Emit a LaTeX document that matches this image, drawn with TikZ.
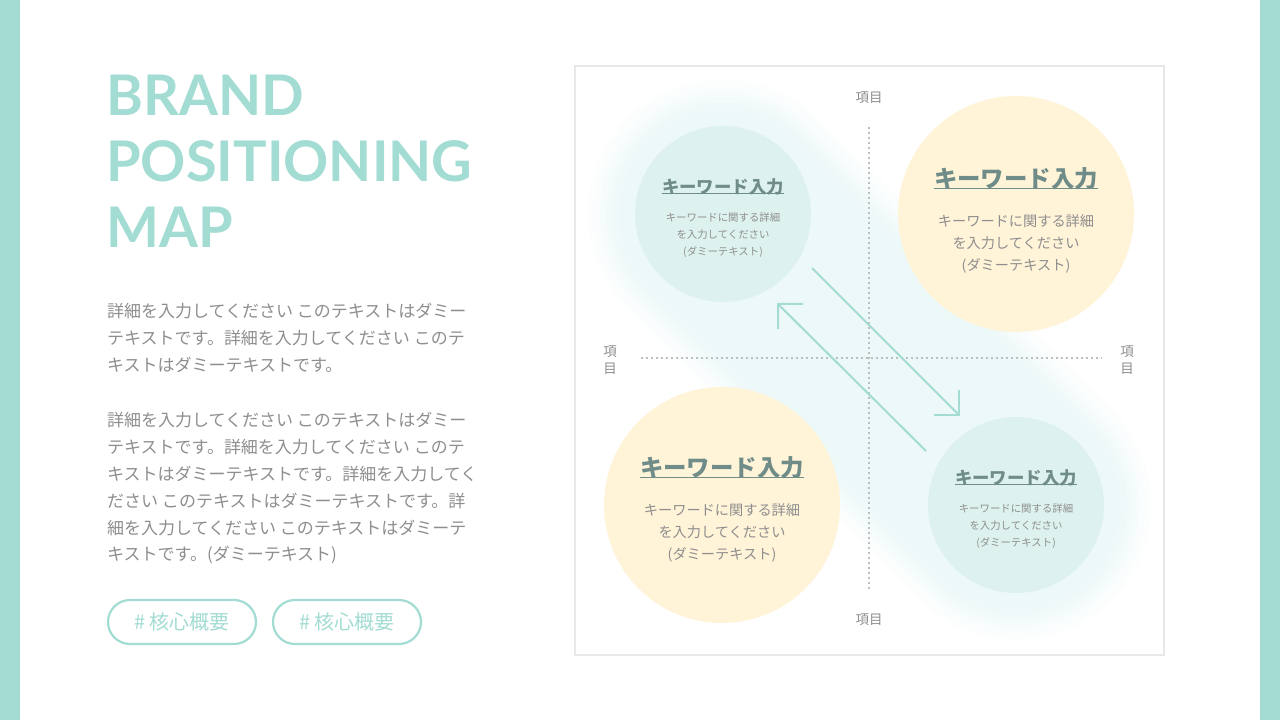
\documentclass[tikz,border=0pt]{standalone}
\usepackage{fontspec}
\setmainfont{Noto Sans CJK JP}
\newfontfamily\titlefont{Lato}
\usetikzlibrary{arrows.meta}
\definecolor{brandteal}{HTML}{A2DCD3}
\definecolor{bodygray}{HTML}{8E8E8E}
\definecolor{framegray}{HTML}{E7E9E9}
\definecolor{mintfill}{HTML}{DDF2EF}
\definecolor{creamfill}{HTML}{FFF3D8}
\definecolor{glowcol}{HTML}{EAF8F8}
\definecolor{kwcol}{HTML}{6F8C88}
\definecolor{axisgray}{HTML}{BABFBF}
\tikzset{
  titletxt/.style={font=\titlefont\bfseries\fontsize{56}{56}\selectfont, text=brandteal, inner sep=0pt, anchor=base west},
  bodytxt/.style={font=\fontsize{17}{27}\selectfont, text=bodygray, inner sep=0pt, anchor=west},
  tagbox/.style={draw=brandteal, line width=2.2pt, rounded corners=22pt, minimum width=148pt, minimum height=44pt, inner sep=0pt, text=brandteal, font=\fontsize{20}{20}\selectfont},
  bubble/.style={circle, inner sep=0pt, draw=none},
  kwsmall/.style={font=\bfseries\fontsize{17.4}{17.4}\selectfont, text=kwcol, inner sep=0pt},
  kwbig/.style={font=\bfseries\fontsize{23.4}{23.4}\selectfont, text=kwcol, inner sep=0pt},
  descsmall/.style={font=\fontsize{10.4}{17}\selectfont, text=bodygray, align=center, inner sep=0pt},
  descbig/.style={font=\fontsize{14.2}{22.2}\selectfont, text=bodygray, align=center, inner sep=0pt},
  axislabel/.style={font=\fontsize{13.5}{17}\selectfont, text=bodygray, align=center, inner sep=0pt},
  axisline/.style={axisgray, line width=1.5pt, dash pattern=on 1.5pt off 3.5pt},
  uline/.style={kwcol, line width=1.6pt},
  arrowline/.style={brandteal, line width=2pt, -{Straight Barb[length=17.7pt, width=35.4pt, line width=2pt]}}
}
\begin{document}
\begin{tikzpicture}[x=1pt,y=-1pt]
\useasboundingbox (0,0) rectangle (1280,720);
\fill[white] (0,0) rectangle (1280,720);
\fill[brandteal] (0,0) rectangle (20,720);
\fill[brandteal] (1260,0) rectangle (1280,720);

% title
\node[titletxt] (t1) at (106,115) {BRAND};
\node[titletxt] (t2) at (106,181) {POSITIONING};
\node[titletxt] (t3) at (106,247) {MAP};

% paragraphs
\node[bodytxt] (p1) at (107,311) {詳細を入力してください このテキストはダミー};
\node[bodytxt] (p2) at (107,338) {テキストです。詳細を入力してください このテ};
\node[bodytxt] (p3) at (107,365) {キストはダミーテキストです。};
\node[bodytxt] (q1) at (107,420) {詳細を入力してください このテキストはダミー};
\node[bodytxt] (q2) at (107,447) {テキストです。詳細を入力してください このテ};
\node[bodytxt] (q3) at (107,474) {キストはダミーテキストです。詳細を入力してく};
\node[bodytxt] (q4) at (107,501) {ださい このテキストはダミーテキストです。詳};
\node[bodytxt] (q5) at (107,528) {細を入力してください このテキストはダミーテ};
\node[bodytxt] (q6) at (107,555) {キストです。(ダミーテキスト)};

% tags
\node[tagbox] (g1) at (182,622) {\# 核心概要};
\node[tagbox] (g2) at (347,622) {\# 核心概要};

% frame
\node[draw=framegray, line width=2.5pt, minimum width=589pt, minimum height=589pt, inner sep=0pt] (frame) at (869.5,360.5) {};

% glow band (soft edges)
\foreach \w/\o in {270/0.12, 258/0.15, 246/0.2, 234/0.25, 222/0.3, 208/0.35} {
  \draw[glowcol, line width=\w pt, line cap=round, opacity=\o] (723,214) -- (1016,505);
}

% bubbles
\node[bubble, fill=mintfill, minimum size=176pt] (c1) at (723,214) {};
\node[bubble, fill=creamfill, minimum size=236pt] (c2) at (1016,214) {};
\node[bubble, fill=creamfill, minimum size=236pt] (c3) at (722,505) {};
\node[bubble, fill=mintfill, minimum size=176pt] (c4) at (1016,505) {};

% axes
\draw[axisline] (869,127) -- (869,592);
\draw[axisline] (641,358) -- (1102,358);
\node[axislabel] (ax1) at (869,98) {項目};
\node[axislabel] (ax2) at (869,620) {項目};
\node[axislabel] (ax3) at (610,360.5) {項\\目};
\node[axislabel] (ax4) at (1127,360.5) {項\\目};

% arrows
\coordinate (a1s) at (812,268);
\coordinate (a1e) at (960,416);
\coordinate (a2s) at (926,451);
\coordinate (a2e) at (777,303);
\draw[arrowline] (a1s) -- (a1e);
\draw[arrowline] (a2s) -- (a2e);

% bubble texts
\node[kwsmall] (k1) at (723,187) {キーワード入力};
\draw[uline] ([yshift=2pt]k1.south west) -- ([yshift=2pt]k1.south east);
\node[descsmall] (d1) at (723,235) {キーワードに関する詳細\\を入力してください\\(ダミーテキスト)};

\node[kwbig] (k2) at (1016,179) {キーワード入力};
\draw[uline] ([yshift=2pt]k2.south west) -- ([yshift=2pt]k2.south east);
\node[descbig] (d2) at (1016,244) {キーワードに関する詳細\\を入力してください\\(ダミーテキスト)};

\node[kwbig] (k3) at (722,468) {キーワード入力};
\draw[uline] ([yshift=2pt]k3.south west) -- ([yshift=2pt]k3.south east);
\node[descbig] (d3) at (722,533) {キーワードに関する詳細\\を入力してください\\(ダミーテキスト)};

\node[kwsmall] (k4) at (1016,478) {キーワード入力};
\draw[uline] ([yshift=2pt]k4.south west) -- ([yshift=2pt]k4.south east);
\node[descsmall] (d4) at (1016,526.5) {キーワードに関する詳細\\を入力してください\\(ダミーテキスト)};
\end{tikzpicture}
\end{document}
